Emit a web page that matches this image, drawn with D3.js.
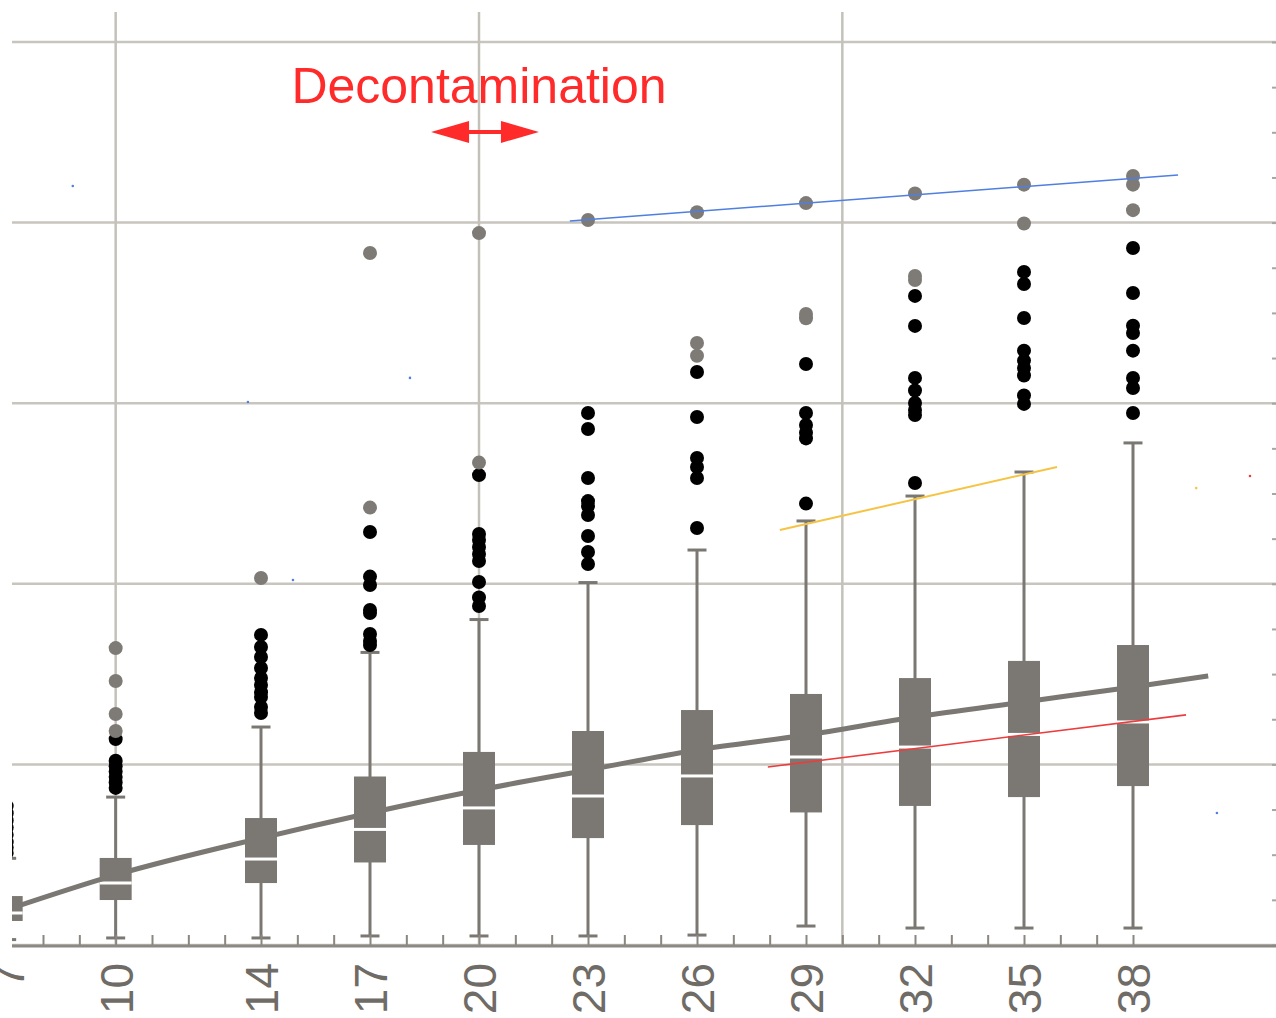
<!DOCTYPE html>
<html>
<head>
<meta charset="utf-8">
<script src="https://cdn.jsdelivr.net/npm/d3@7"></script>
<style>
  body { margin: 0; background: #fff; }
  svg { display: block; }
</style>
</head>
<body>
<div id="chart"></div>
<script>
/* global d3 */

// box positions (x units) and five-number summaries (y units, gridline every 10)
var positions = [7, 10, 14, 17, 20, 23, 26, 29, 32, 35, 38];
var lowWhisker = [0.3, 0.39, 0.39, 0.5, 0.5, 0.5, 0.55, 1.05, 0.94, 0.94, 0.94];
var q1 = [1.33, 2.49, 3.43, 4.57, 5.54, 5.92, 6.64, 7.34, 7.7, 8.19, 8.8];
var medians = [1.77, 3.43, 4.76, 6.4, 7.59, 8.25, 9.36, 10.41, 10.96, 11.66, 12.35];
var q3 = [2.71, 4.82, 7.03, 9.33, 10.69, 11.85, 13.01, 13.9, 14.78, 15.73, 16.61];
var highWhisker = [4.8, 8.19, 12.07, 16.2, 18.02, 20.07, 21.87, 23.48, 24.86, 26.19, 27.8];

// black outliers
var outliers = [
  [7.7, 7.3, 6.9, 6.5, 6.1, 5.7, 5.4, 5.1],
  [11.4, 10.2, 9.9, 9.6, 9.3, 9.0, 8.7],
  [17.17, 16.5, 15.95, 15.34, 14.78, 14.4, 14.0, 13.73, 13.18, 12.85],
  [22.87, 20.4, 19.93, 18.55, 18.38, 17.22, 16.83, 16.61],
  [26.02, 22.76, 22.43, 22.04, 21.65, 21.26, 20.1, 19.24, 18.77],
  [29.46, 28.57, 25.86, 24.58, 24.31, 23.81, 22.65, 21.76, 21.1],
  [31.73, 29.24, 26.97, 26.47, 25.86, 23.09],
  [32.17, 29.46, 28.79, 28.37, 28.05, 24.44],
  [35.94, 34.28, 31.4, 30.7, 30.01, 29.62, 29.35, 25.58],
  [37.27, 36.6, 34.72, 32.91, 32.36, 31.95, 31.53, 30.43, 29.96],
  [38.59, 36.1, 34.29, 33.89, 32.91, 31.4, 30.84, 29.46]
];

// grey (far) outliers
var farOutliers = [
  [],
  [16.44, 14.62, 12.79, 11.85],
  [20.32],
  [24.22, 38.32],
  [26.71, 39.42],
  [40.14],
  [33.33, 32.63, 40.58],
  [34.94, 34.7, 41.08],
  [41.61, 37.04, 36.82],
  [42.1, 39.95],
  [42.58, 42.1, 40.69]
];

var tickLabels = [7, 10, 14, 17, 20, 23, 26, 29, 32, 35, 38];
var xGrid = [10, 20, 30];
var yGrid = [0, 10, 20, 30, 40, 50];

// fitted lines
var trendX = [7.15, 10, 14, 17, 20, 23, 26, 29, 32, 35, 38, 40.07];
var trendY = [2.05, 3.88, 5.92, 7.31, 8.58, 9.69, 10.8, 11.63, 12.62, 13.46, 14.29, 14.9];
var blueX = [22.5, 39.24];
var blueY = [40.09, 42.64];
var yellowX = [28.28, 35.91];
var yellowY = [22.98, 26.47];
var redX = [27.95, 39.46];
var redY = [9.86, 12.74];

// stray specks
var blueDots = [[8.82, 42.03], [13.64, 30.07], [18.1, 31.4], [14.88, 20.21], [40.31, 7.31]];
var yellowDots = [[39.74, 25.3]];
var redDots = [[41.22, 25.97]];

var annotation = 'Decontamination';

var WIDTH = 1276, HEIGHT = 1018;
var LEFT = 12, RIGHT = 1276, TOP = 12, BOTTOM = 946;
var GREY = '#7b7873';

var svg = d3.select('#chart').append('svg')
  .attr('width', WIDTH)
  .attr('height', HEIGHT)
  .style('background', 'white');

var x = d3.scaleLinear().domain([23, 38]).range([588, 1133]);
var y = d3.scaleLinear().domain([0, 50]).range([945, 42]);

svg.append('clipPath').attr('id', 'plot-clip')
  .append('rect')
  .attr('x', LEFT).attr('y', TOP)
  .attr('width', RIGHT - LEFT).attr('height', BOTTOM - TOP + 2);

var plot = svg.append('g').attr('clip-path', 'url(#plot-clip)');

// grid
plot.selectAll('.hgrid').data(yGrid).enter().append('line')
  .attr('x1', LEFT).attr('x2', RIGHT)
  .attr('y1', function(d) { return y(d); })
  .attr('y2', function(d) { return y(d); })
  .attr('stroke', '#c8c5bf').attr('stroke-width', 2.5);

plot.selectAll('.vgrid').data(xGrid).enter().append('line')
  .attr('x1', function(d) { return x(d); })
  .attr('x2', function(d) { return x(d); })
  .attr('y1', TOP).attr('y2', BOTTOM)
  .attr('stroke', '#c4c1bb').attr('stroke-width', 2.5);

// right frame ticks
svg.append('g')
  .attr('transform', 'translate(' + RIGHT + ',0)')
  .call(d3.axisLeft(y).tickValues(d3.range(0, 51, 2.5)).tickSize(4).tickFormat(''))
  .call(function(g) {
    g.select('.domain').remove();
    g.selectAll('line').attr('stroke', '#a9a5a0').attr('stroke-width', 2);
  });

// boxes
var boxes = positions.map(function(p, i) {
  return { pos: p, lo: lowWhisker[i], q1: q1[i], med: medians[i], q3: q3[i], hi: highWhisker[i],
    out: outliers[i], far: farOutliers[i] };
});

var box = plot.selectAll('.box').data(boxes).enter().append('g')
  .attr('transform', function(d) { return 'translate(' + x(d.pos) + ',0)'; });

box.append('line')
  .attr('y1', function(d) { return y(d.hi); })
  .attr('y2', function(d) { return y(d.lo); })
  .attr('stroke', GREY).attr('stroke-width', 3);

box.selectAll('.cap').data(function(d) { return [d.lo, d.hi]; }).enter().append('line')
  .attr('x1', -9.5).attr('x2', 9.5)
  .attr('y1', function(v) { return y(v); })
  .attr('y2', function(v) { return y(v); })
  .attr('stroke', GREY).attr('stroke-width', 3);

box.append('rect')
  .attr('x', -16).attr('width', 32)
  .attr('y', function(d) { return y(d.q3); })
  .attr('height', function(d) { return y(d.q1) - y(d.q3); })
  .attr('fill', GREY);

box.append('line')
  .attr('x1', -16).attr('x2', 16)
  .attr('y1', function(d) { return y(d.med); })
  .attr('y2', function(d) { return y(d.med); })
  .attr('stroke', 'white').attr('stroke-width', 3);

box.selectAll('.out').data(function(d) { return d.out; }).enter().append('circle')
  .attr('cy', function(v) { return y(v); })
  .attr('r', 7).attr('fill', '#000');

box.selectAll('.far').data(function(d) { return d.far; }).enter().append('circle')
  .attr('cy', function(v) { return y(v); })
  .attr('r', 7).attr('fill', '#7e7b77');

// fitted lines
function pairs(xs, ys) {
  return xs.map(function(v, i) { return [v, ys[i]]; });
}
var line = d3.line()
  .x(function(d) { return x(d[0]); })
  .y(function(d) { return y(d[1]); });

plot.append('path')
  .attr('d', line.curve(d3.curveMonotoneX)(pairs(trendX, trendY)))
  .attr('fill', 'none').attr('stroke', GREY).attr('stroke-width', 5);

line.curve(d3.curveLinear);
[[blueX, blueY, '#4f7fe0', 1.5], [yellowX, yellowY, '#f6c445', 2], [redX, redY, '#ee3b3b', 1.6]]
  .forEach(function(s) {
    plot.append('path')
      .attr('d', line(pairs(s[0], s[1])))
      .attr('fill', 'none').attr('stroke', s[2]).attr('stroke-width', s[3]);
  });

[[blueDots, '#4f7fe0'], [yellowDots, '#f6c445'], [redDots, '#ee3b3b']].forEach(function(s) {
  plot.selectAll(null).data(s[0]).enter().append('circle')
    .attr('cx', function(d) { return x(d[0]); })
    .attr('cy', function(d) { return y(d[1]); })
    .attr('r', 1.3).attr('fill', s[1]);
});

// x axis
var xAxis = svg.append('g')
  .attr('transform', 'translate(0,' + BOTTOM + ')')
  .call(d3.axisBottom(x)
    .tickValues(d3.range(7, 39))
    .tickSizeInner(-11).tickSizeOuter(0).tickPadding(17)
    .tickFormat(function(d) { return tickLabels.indexOf(d) >= 0 ? d : ''; }));

xAxis.select('.domain').remove();
xAxis.selectAll('line').attr('stroke', '#8a8680').attr('stroke-width', 2);
xAxis.selectAll('.tick').filter(function(d) { return d === 7; }).select('line').remove();
xAxis.selectAll('text')
  .attr('transform', 'rotate(-90)')
  .attr('x', -17).attr('y', 0).attr('dy', '0.36em')
  .attr('text-anchor', 'end')
  .attr('font-family', '"Liberation Sans", Arial, sans-serif')
  .attr('font-size', 46)
  .attr('fill', '#6f6b66');

svg.append('line')
  .attr('x1', LEFT).attr('x2', RIGHT)
  .attr('y1', BOTTOM).attr('y2', BOTTOM)
  .attr('stroke', '#8c8883').attr('stroke-width', 3);

// annotation
svg.append('text')
  .attr('x', x(20)).attr('y', y(46.6))
  .attr('text-anchor', 'middle')
  .attr('font-family', '"Liberation Sans", Arial, sans-serif')
  .attr('font-size', 50)
  .attr('fill', '#ff2a2a')
  .text(annotation);

var ax1 = x(18.68), ax2 = x(21.65), ay = y(45.02);
svg.append('line')
  .attr('x1', ax1 + 20).attr('x2', ax2 - 20)
  .attr('y1', ay).attr('y2', ay)
  .attr('stroke', '#ff2a2a').attr('stroke-width', 4);
svg.append('path')
  .attr('d', 'M' + ax1 + ',' + ay + 'L' + (ax1 + 38) + ',' + (ay - 11) + 'L' + (ax1 + 38) + ',' + (ay + 11) + 'Z')
  .attr('fill', '#ff2a2a');
svg.append('path')
  .attr('d', 'M' + ax2 + ',' + ay + 'L' + (ax2 - 38) + ',' + (ay - 11) + 'L' + (ax2 - 38) + ',' + (ay + 11) + 'Z')
  .attr('fill', '#ff2a2a');
</script>
</body>
</html>
